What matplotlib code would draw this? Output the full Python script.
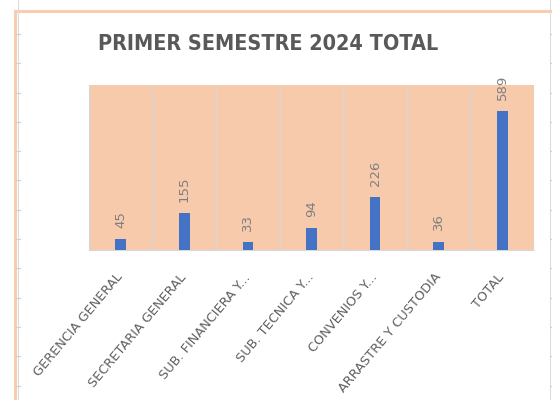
import matplotlib
matplotlib.use("Agg")
import matplotlib.pyplot as plt
from matplotlib.lines import Line2D
from matplotlib.patches import Rectangle

categories = ["GERENCIA GENERAL", "SECRETARIA GENERAL", "SUB. FINANCIERA Y...",
              "SUB. TECNICA Y...", "CONVENIOS Y...", "ARRASTRE Y CUSTODIA", "TOTAL"]
values = [45, 155, 33, 94, 226, 36, 589]

W, H = 552, 400
fig = plt.figure(figsize=(W / 100, H / 100), dpi=100)
fig.patch.set_facecolor("white")

# spreadsheet background: cell lines and chart frame
for xpx in (18, 550):
    fig.add_artist(Line2D([xpx / W, xpx / W], [0, 1], color="#dcdcdc", lw=0.8))
y = 34
while y < H:
    fig.add_artist(Line2D([16 / W, 20 / W], [1 - y / H, 1 - y / H], color="#d0d0d0", lw=0.8))
    fig.add_artist(Line2D([550 / W, 552 / W], [1 - y / H, 1 - y / H], color="#d0d0d0", lw=0.8))
    y += 29.3
fig.add_artist(Rectangle((15 / W, -0.1), 0.99, 1 - 10.5 / H + 0.1, fill=False,
                         edgecolor="#f9cdb0", lw=2.2))

ax = fig.add_axes([89 / W, 1 - 250 / H, (534 - 89) / W, (250 - 85) / H])
ax.set_facecolor("#f7caac")
x = range(len(values))
bars = ax.bar(x, values, width=0.17, color="#4472c4", zorder=3)
ax.set_xlim(-0.5, len(values) - 0.5)
ax.set_ylim(0, 700)

for b in [i - 0.5 for i in range(len(values) + 1)]:
    ax.axvline(b, color="#d6d6d6", lw=0.9, zorder=1)

for rect, v in zip(bars, values):
    ax.annotate(str(v), (rect.get_x() + rect.get_width() / 2, v), xytext=(0, 8),
                textcoords="offset points", ha="center", va="bottom", rotation=90,
                fontsize=9.5, color="#7f7f7f")

for s in ("top", "left", "right"):
    ax.spines[s].set_visible(False)
ax.spines["bottom"].set_color("#d9d9d9")
ax.set_yticks([])
ax.set_xticks(list(x))
ax.set_xticklabels(categories, rotation=50, ha="right", va="center",
                   rotation_mode="anchor", fontsize=9.3, color="#606060")
ax.tick_params(axis="x", length=0, pad=18)

fig.text(268 / W, 1 - 44 / H, "PRIMER SEMESTRE 2024 TOTAL", ha="center", va="center",
         fontsize=15.5, fontweight="bold", fontstretch="condensed", color="#595959",
         family=["DejaVu Sans"])

fig.savefig("out.png", dpi=100)
